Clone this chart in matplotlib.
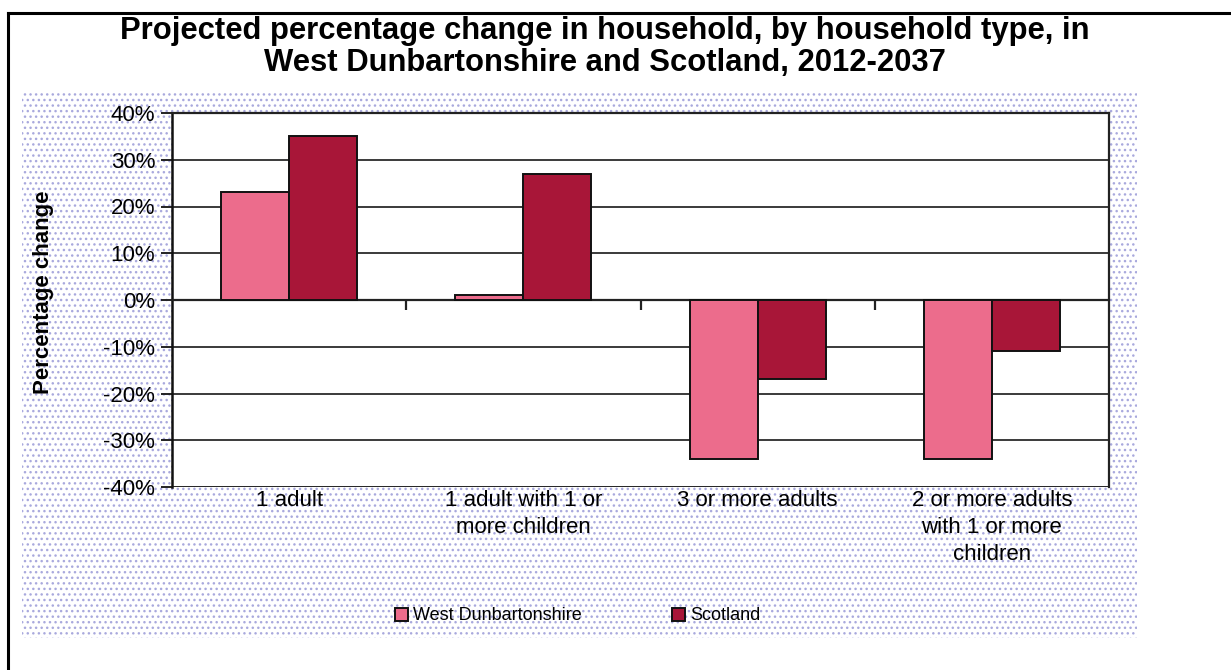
import numpy as np
import matplotlib.pyplot as plt
from matplotlib.patches import Rectangle
from matplotlib.lines import Line2D
from matplotlib.ticker import FuncFormatter, FixedLocator
import matplotlib.transforms as mtransforms

plt.rcParams['font.family'] = ['Liberation Sans', 'DejaVu Sans']

categories = ["1 adult", "1 adult with 1 or\nmore children", "3 or more adults",
              "2 or more adults\nwith 1 or more\nchildren"]
west_dunbartonshire = [23, 1, -34, -34]
scotland = [35, 27, -17, -11]
series_names = ["West Dunbartonshire", "Scotland"]

W, H = 1231, 670
fig = plt.figure(figsize=(W / 100, H / 100), dpi=100)

# outer frame (top + left only visible)
fig.add_artist(Line2D([8 / W, 1.0], [1 - 13 / H, 1 - 13 / H], color="black", lw=2.2))
fig.add_artist(Line2D([8 / W, 8 / W], [0, 1 - 13 / H], color="black", lw=2.2))

# dotted chart background
bg = Rectangle((22 / W, 1 - 638 / H), (1137 - 22) / W, (638 - 92) / H,
               transform=fig.transFigure, facecolor="white", edgecolor="#a9a9dd",
               hatch="...", lw=0, zorder=0)
fig.add_artist(bg)

fig.text(605 / W, 1 - 47 / H,
         "Projected percentage change in household, by household type, in\n"
         "West Dunbartonshire and Scotland, 2012-2037",
         ha="center", va="center", fontsize=22.3, fontweight="bold", linespacing=1.1)

ax = fig.add_axes([172 / W, 1 - 487 / H, (1109 - 172) / W, (487 - 113) / H])
ax.set_facecolor("white")

x = np.arange(len(categories))
bw = 0.29
ax.bar(x - bw / 2, west_dunbartonshire, bw, color="#ec6c8c", edgecolor="#111111",
       lw=1.4, label=series_names[0], zorder=3)
ax.bar(x + bw / 2, scotland, bw, color="#a81638", edgecolor="#111111",
       lw=1.4, label=series_names[1], zorder=3)

ax.set_xlim(-0.5, len(categories) - 0.5)
ax.set_ylim(-40, 40)
ax.yaxis.set_major_locator(FixedLocator(np.arange(-40, 41, 10)))
ax.yaxis.set_major_formatter(FuncFormatter(lambda v, p: "%d%%" % v))
ax.grid(axis="y", color="#3a3a3a", lw=1.4, zorder=1)
ax.set_axisbelow(True)

for s in ["top", "right"]:
    ax.spines[s].set_visible(True)
    ax.spines[s].set_color("#222222")
    ax.spines[s].set_linewidth(1.6)
ax.spines["left"].set_linewidth(1.8)
ax.spines["left"].set_color("#111111")
ax.spines["bottom"].set_position(("data", 0))
ax.spines["bottom"].set_linewidth(1.6)
ax.spines["bottom"].set_color("#222222")
ax.axhline(-40, color="#222222", lw=1.8, zorder=2)

ax.set_xticks(np.arange(0.5, len(categories) - 0.5, 1.0))
ax.set_xticklabels([])
ax.tick_params(axis="x", direction="out", length=7, width=1.6, color="#222222")
ax.tick_params(axis="y", direction="out", length=8, width=1.4, color="#222222",
               labelsize=16, pad=4)

trans = mtransforms.blended_transform_factory(ax.transData, ax.transAxes)
for xi, lab in zip(x, categories):
    ax.text(xi, -0.008, lab, transform=trans, ha="center", va="top",
            fontsize=16, linespacing=1.38)

ax.set_ylabel("Percentage change", fontsize=16, fontweight="bold")
ax.yaxis.set_label_coords(-118 / (1109 - 172), 0.52)

leg = fig.legend(loc="center", bbox_to_anchor=(578 / W, 1 - 616 / H), ncol=2,
                 frameon=False, fontsize=13, handlelength=0.7, handleheight=0.7,
                 columnspacing=5, handletextpad=0.3)

fig.savefig("out.png", dpi=100)
